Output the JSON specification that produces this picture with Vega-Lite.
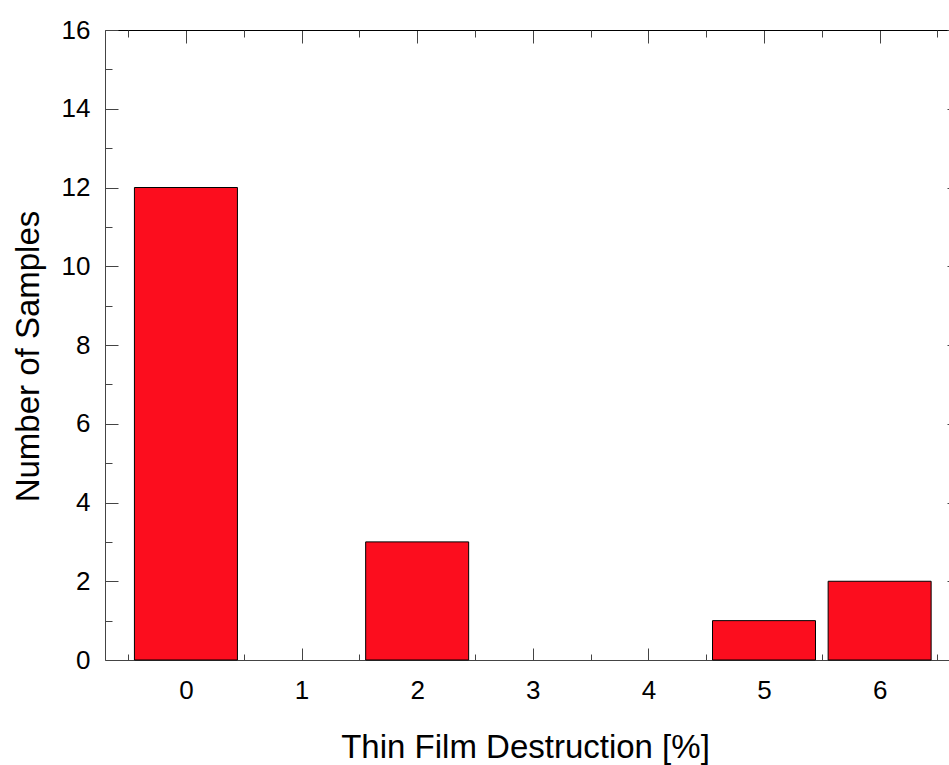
{
  "$schema": "https://vega.github.io/schema/vega-lite/v6.json",
  "autosize": "none",
  "width": 844,
  "height": 630,
  "padding": {"left": 105, "top": 30, "right": 0, "bottom": 105},
  "background": "white",
  "config": {
    "view": {"stroke": null},
    "font": "Liberation Sans",
    "axis": {"grid": false, "zindex": 1, "tickColor": "#444", "domainColor": "#444", "labelColor": "#000", "titleColor": "#000", "labelFont": "Liberation Sans", "titleFont": "Liberation Sans", "titleFontWeight": "normal"}
  },
  "data": {"values": [
    {"value": 0, "count": 12},
    {"value": 2, "count": 3},
    {"value": 5, "count": 1},
    {"value": 6, "count": 2}
  ]},
  "resolve": {"axis": {"x": "independent", "y": "independent"}},
  "layer": [
    {
      "mark": {"type": "bar", "size": 103, "fill": "#fc0d1e", "stroke": "#000", "strokeWidth": 1},
      "encoding": {
        "x": {"field": "value", "type": "quantitative", "scale": {"domain": [-0.7, 6.6], "nice": false, "zero": false, "padding": 0},
          "axis": {"orient": "bottom", "values": [0,1,2,3,4,5,6], "tickSize": -12, "labelFontSize": 26, "labelPadding": 29, "labelFlush": false, "title": "Thin Film Destruction [%]", "titleFontSize": 33, "titleX": 420, "titleY": 97, "titleAlign": "center", "titleBaseline": "alphabetic"}},
        "y": {"field": "count", "type": "quantitative", "scale": {"domain": [0, 16], "nice": false, "padding": 0},
          "axis": {"orient": "left", "values": [0,2,4,6,8,10,12,14,16], "tickSize": -13, "labelFontSize": 26, "labelPadding": 28, "labelFlush": false, "title": "Number of Samples", "titleFontSize": 33, "titleX": -67, "titleY": 326, "titleAlign": "center", "titleBaseline": "alphabetic", "titleAngle": 270}}
      }
    },
    {
      "mark": {"type": "point", "opacity": 0},
      "encoding": {
        "x": {"field": "value", "type": "quantitative",
          "axis": {"orient": "bottom", "values": [-0.5,0.5,1.5,2.5,3.5,4.5,5.5,6.5], "tickSize": -6, "labels": false, "domain": false, "title": null}},
        "y": {"field": "count", "type": "quantitative",
          "axis": {"orient": "left", "values": [1,3,5,7,9,11,13,15], "tickSize": -7, "labels": false, "domain": false, "title": null}}
      }
    },
    {
      "mark": {"type": "point", "opacity": 0},
      "encoding": {
        "x": {"field": "value", "type": "quantitative",
          "axis": {"orient": "top", "values": [0,1,2,3,4,5,6], "tickSize": -13, "labels": false, "domain": true, "domainColor": "#000", "title": null}},
        "y": {"field": "count", "type": "quantitative",
          "axis": {"orient": "right", "offset": 11, "values": [0,2,4,6,8,10,12,14,16], "tickSize": -13, "labels": false, "domain": true, "title": null}}
      }
    },
    {
      "mark": {"type": "point", "opacity": 0},
      "encoding": {
        "x": {"field": "value", "type": "quantitative",
          "axis": {"orient": "top", "values": [-0.5,0.5,1.5,2.5,3.5,4.5,5.5,6.5], "tickSize": -7, "labels": false, "domain": false, "title": null}},
        "y": {"field": "count", "type": "quantitative",
          "axis": {"orient": "right", "offset": 11, "values": [1,3,5,7,9,11,13,15], "tickSize": -7, "labels": false, "domain": false, "title": null}}
      }
    }
  ]
}
